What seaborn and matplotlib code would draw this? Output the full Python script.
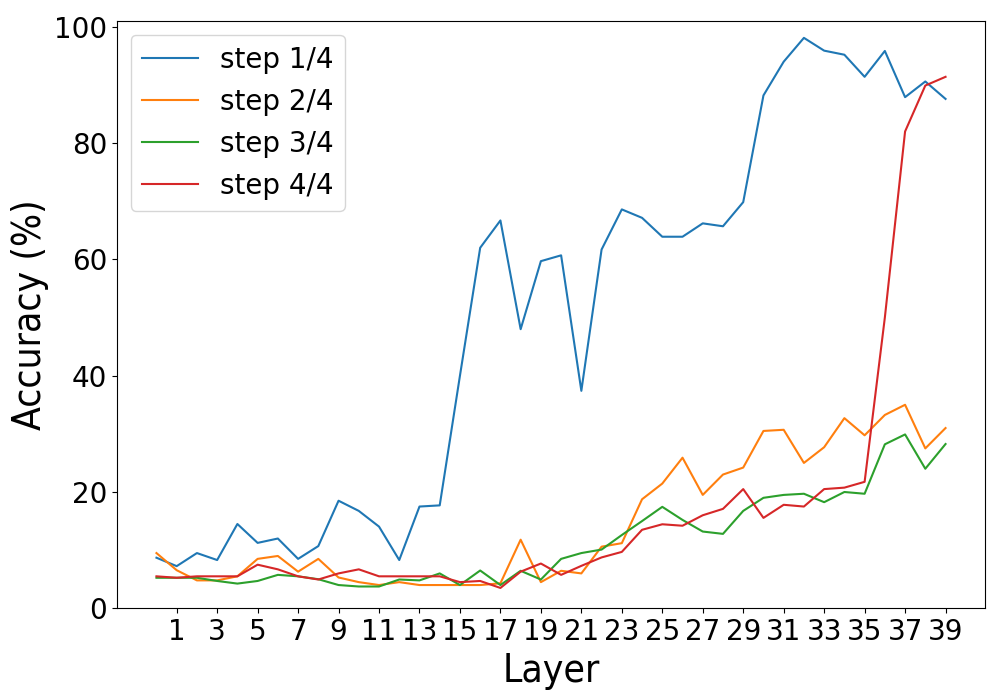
import matplotlib
matplotlib.use("Agg")
import matplotlib.pyplot as plt
import seaborn as sns
import numpy as np
import pandas as pd

layers = list(range(40))

step1 = [8.7, 7.25, 9.5, 8.3, 14.5, 11.25, 12.0, 8.5, 10.7, 18.5,
         16.75, 14.05, 8.3, 17.5, 17.7, 40.0, 62.0, 66.7, 48.0, 59.7,
         60.7, 37.4, 61.7, 68.6, 67.15, 63.9, 63.9, 66.2, 65.7, 69.85,
         88.2, 94.0, 98.1, 95.9, 95.2, 91.4, 95.85, 87.9, 90.6, 87.6]
step2 = [9.5, 6.55, 4.8, 4.8, 5.5, 8.5, 9.0, 6.3, 8.5, 5.3,
         4.5, 4.0, 4.5, 4.0, 4.0, 4.0, 4.0, 4.3, 11.8, 4.5,
         6.45, 6.0, 10.6, 11.2, 18.75, 21.45, 25.9, 19.5, 23.0, 24.2,
         30.5, 30.7, 25.0, 27.7, 32.7, 29.75, 33.25, 35.0, 27.5, 31.0]
step3 = [5.25, 5.25, 5.25, 4.7, 4.25, 4.7, 5.75, 5.5, 5.0, 4.0,
         3.75, 3.75, 4.95, 4.8, 6.0, 4.0, 6.5, 4.0, 6.45, 4.95,
         8.5, 9.5, 10.1, 12.6, 15.0, 17.45, 15.2, 13.2, 12.8, 16.75,
         19.0, 19.5, 19.7, 18.25, 20.0, 19.7, 28.2, 29.9, 24.0, 28.25]
step4 = [5.5, 5.25, 5.5, 5.5, 5.5, 7.5, 6.7, 5.5, 4.95, 6.0,
         6.7, 5.5, 5.5, 5.5, 5.5, 4.5, 4.7, 3.5, 6.3, 7.7,
         5.75, 7.3, 8.75, 9.7, 13.5, 14.45, 14.2, 16.0, 17.1, 20.5,
         15.55, 17.8, 17.5, 20.5, 20.75, 21.75, 50.0, 82.0, 89.9, 91.4]

step_names = ["step 1/4", "step 2/4", "step 3/4", "step 4/4"]
tick_layers = list(range(1, 40, 2))

df = pd.concat([
    pd.DataFrame({"Layer": layers, "Accuracy": vals, "step": name})
    for name, vals in zip(step_names, [step1, step2, step3, step4])
])

fig, ax = plt.subplots(figsize=(10, 7), dpi=100)
sns.lineplot(data=df, x="Layer", y="Accuracy", hue="step",
             hue_order=step_names, palette="tab10", linewidth=1.5, ax=ax)

ax.set_ylim(0, 101)
ax.set_xticks(tick_layers)
ax.tick_params(axis="both", labelsize=20)
# axis labels look narrower than the tick labels in the original
ax.set_xlabel("Layer", fontsize=28, fontstretch="condensed")
ax.set_ylabel("Accuracy (%)", fontsize=28, fontstretch="condensed")

handles, labels = ax.get_legend_handles_labels()
ax.legend(handles, labels, loc="upper left", fontsize=20)

plt.subplots_adjust(left=0.117, right=0.985, top=0.97, bottom=0.131)
plt.savefig("out.png", dpi=100)
plt.close()
